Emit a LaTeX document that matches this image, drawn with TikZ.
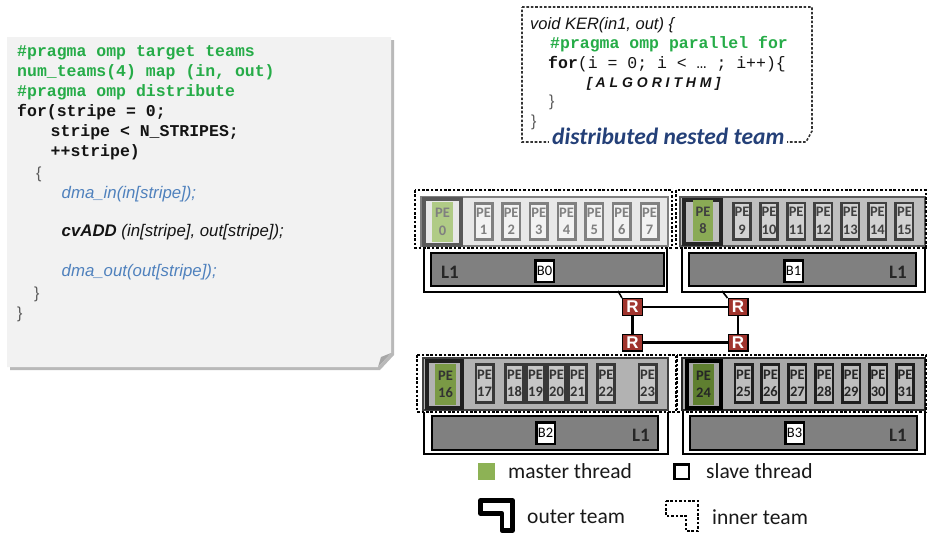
\documentclass[tikz,border=0pt]{standalone}
\usepackage{fontspec}
\setmainfont{Liberation Sans}
\setmonofont{Liberation Mono}
\newfontfamily\cbr{Carlito}
\definecolor{codegreen}{RGB}{38,172,72}
\definecolor{codeblue}{RGB}{79,129,189}
\definecolor{codeblack}{RGB}{20,20,20}
\definecolor{bracegray}{RGB}{90,90,90}
\definecolor{titleblue}{RGB}{36,64,120}
\definecolor{routerred}{RGB}{160,52,45}
\definecolor{panelgray}{RGB}{242,242,242}
\definecolor{greenA}{RGB}{176,203,134}
\definecolor{greenB}{RGB}{138,170,85}
\definecolor{greenC}{RGB}{122,154,69}
\definecolor{greenD}{RGB}{95,127,48}
\definecolor{legendgreen}{RGB}{141,178,85}
\begin{document}
\begin{tikzpicture}[x=1pt,y=-1pt,
  codeg/.style={anchor=base west, inner sep=0pt, font=\ttfamily\bfseries\fontsize{16.5}{20}\selectfont, text=codegreen},
  codek/.style={codeg, text=codeblack},
  codei/.style={anchor=base west, inner sep=0pt, font=\itshape\fontsize{16.8}{20}\selectfont, text=codeblue},
  bracetxt/.style={anchor=base west, inner sep=0pt, font=\fontsize{16}{20}\selectfont, text=bracegray},
  pefont/.style={font=\cbr\bfseries\fontsize{14.5}{17.5}\selectfont},
  pe/.style={pefont, draw, line width=2.6pt, minimum width=17.4pt, minimum height=36.4pt, inner sep=0pt, align=center},
  master/.style={pefont, minimum width=21pt, minimum height=40pt, inner sep=0pt, align=center},
  frame/.style={draw, line width=4pt, inner sep=0pt},
  band/.style={line width=2pt},
  dots/.style={dash pattern=on 2.6pt off 1.8pt},
  inner team/.style={draw=black, line width=2.8pt, dots},
  outer team/.style={draw=black, line width=2.6pt},
  lbar/.style={draw=black, fill=gray!100!white, line width=2.5pt},
  bank/.style={draw=black, fill=white, line width=2.5pt, minimum width=18.5pt, minimum height=21.5pt, inner sep=0pt, font=\cbr\fontsize{14.5}{14.5}\selectfont},
  lone/.style={font=\cbr\bfseries\fontsize{19}{19}\selectfont, inner sep=0pt, text=black!85},
  router/.style={draw=black, line width=1.2pt, fill=routerred, text=white, font=\bfseries\fontsize{17}{17}\selectfont, minimum width=19.8pt, minimum height=16.8pt, inner sep=0pt},
  link/.style={draw=black, line width=2.4pt},
  legtxt/.style={anchor=west, inner sep=0pt, font=\cbr\fontsize{21.5}{21.5}\selectfont, text=black!90}
]
\useasboundingbox (0,0) rectangle (928,536);

% ---------------- host code panel ----------------
\fill[gray!55] (10,40) -- (394,40) -- (394,355) -- (380,370) -- (10,370) -- cycle;
\fill[panelgray] (7,37) -- (391,37) -- (391,353) -- (378,367) -- (7,367) -- cycle;
\fill[gray!70] (378,367) -- (381,357) -- (391,353) -- cycle;

\node[codeg] (h1) at (17,56.5) {\#pragma omp target teams};
\node[codeg] (h2) at (17,76.5) {num\_teams(4) map (in, out)};
\node[codeg] (h3) at (17,96.5) {\#pragma omp distribute};
\node[codek] (h4) at (17,116.5) {for(stripe = 0;};
\node[codek] (h5) at (50.5,136.5) {stripe < N\_STRIPES;};
\node[codek] (h6) at (50.5,156.5) {++stripe)};
\node[bracetxt] (h7) at (36,178) {\{};
\node[codei] (h8) at (61.5,198) {dma\_in(in[stripe]);};
\node[codei, text=codeblack] (h9) at (61.5,236.5) {{\bfseries cvADD} (in[stripe], out[stripe]);};
\node[codei] (h10) at (61.5,276.5) {dma\_out(out[stripe]);};
\node[bracetxt] (h11) at (34,298) {\}};
\node[bracetxt] (h12) at (17,318) {\}};

% ---------------- kernel code panel ----------------
\draw[line width=1.6pt, dots, black!80] (522,7) -- (812,7) -- (812,131) -- (806,142) -- (522,142) -- cycle;
\node[codei, text=codeblack, font=\itshape\fontsize{16.5}{20}\selectfont] (k1) at (530,29.5) {void KER(in1, out) \{};
\node[codeg] (k2) at (550,48) {\#pragma omp parallel for};
\node[codek, font=\ttfamily\fontsize{16.5}{20}\selectfont] (k3) at (548,68) {\textbf{for}(i = 0; i < … ; i++)\{};
\node[anchor=base west, inner sep=0pt, font=\bfseries\itshape\fontsize{14}{20}\selectfont, text=codeblack] (k4) at (587,87.5) {[ A L G O R I T H M ]};
\node[bracetxt] (k5) at (549,106) {\}};
\node[bracetxt] (k6) at (531,126) {\}};
\node[anchor=base west, fill=white, inner xsep=3pt, inner ysep=2pt, font=\cbr\bfseries\itshape\fontsize{23.5}{23.5}\selectfont, text=titleblue] (title) at (549,144.5) {distributed nested team};

% ---------------- network of routers ----------------
\node[router] (r1) at (632.5,307) {R};
\node[router] (r2) at (738,307) {R};
\node[router] (r3) at (632.5,342.5) {R};
\node[router] (r4) at (738,342.5) {R};
\draw[link] (r1) -- (r2);
\draw[link] (r3) -- (r4);
\draw[link] (r1) -- (r3);
\draw[link] (r2) -- (r4);
\coordinate (s0) at (618,291);
\coordinate (s1) at (722,291);
\draw[link, line width=1.6pt] (s0) -- (r1.north west);
\draw[link, line width=1.6pt] (s1) -- (r2.north west);

% ---------------- cluster 0 ----------------
\draw[outer team] (424,247) -- (424,292) -- (667,292) -- (667,247);
\draw[band, fill=gray!18, draw=gray!100!black] (421,197) rectangle (668,246);
\node[frame, draw=black!65, minimum width=37pt, minimum height=46pt] (f0) at (442.5,222) {};
\node[master, fill=greenA, text=black!50] (pe0) at (442.5,222) {PE\\0};
\foreach \i [count=\k from 0] in {1,...,7}
  \node[pe, draw=black!50, fill=gray!10, text=black!50] (pe\i) at ({483.5+27.67*\k},221.5) {PE\\\i};
\draw[inner team] (415,190) rectangle (672,248);
\draw[lbar] (431,253) rectangle (664,286);
\node[bank] (b0) at (544.5,271) {B0};
\node[lone] (l0) at (450,272) {L1};

% ---------------- cluster 1 ----------------
\draw[outer team] (682,247) -- (682,292) -- (925,292) -- (925,247);
\draw[band, fill=gray!50, draw=black!65] (680,197) rectangle (925,246);
\node[frame, draw=black!85, minimum width=37pt, minimum height=44pt] (f1) at (702.5,222) {};
\node[master, fill=greenB, text=black!75, minimum width=20pt, minimum height=41pt] (pe8) at (703,220.5) {PE\\8};
\foreach \i [count=\k from 0] in {9,...,15}
  \node[pe, draw=black!75, fill=gray!35, text=black!75] (pe\i) at ({742+27.08*\k},221) {PE\\\i};
\draw[inner team] (676,190) rectangle (926,248);
\draw[lbar] (689,253) rectangle (916,286);
\node[bank] (b1) at (793.5,271) {B1};
\node[lone] (l1) at (898,272) {L1};

% ---------------- cluster 2 ----------------
\draw[outer team] (424,412) -- (424,454) -- (668,454) -- (668,412);
\draw[band, fill=gray!60, draw=black!75] (423,358) rectangle (668,410);
\node[frame, draw=black!88, minimum width=35pt, minimum height=47pt] (f2) at (444.5,384.5) {};
\node[master, fill=greenC, text=black!80, minimum height=41pt] (pe16) at (445.5,384.5) {PE\\16};
\node[pe, draw=black!78, fill=gray!45, text=black!80, minimum height=38.4pt] (pe17) at (484.5,383.5) {PE\\17};
\foreach \i [count=\k from 0] in {18,...,21}
  \node[pe, draw=black!78, fill=gray!45, text=black!80, minimum width=18.4pt, minimum height=38.4pt] (pe\i) at ({514.5+21*\k},383.5) {PE\\\i};
\node[pe, draw=black!78, fill=gray!45, text=black!80, minimum height=38.4pt] (pe22) at (606,383.5) {PE\\22};
\node[pe, draw=black!78, fill=gray!45, text=black!80, minimum height=38.4pt] (pe23) at (647.5,383.5) {PE\\23};
\draw[inner team] (417,355) rectangle (676,412);
\draw[lbar] (432,416) rectangle (658,450);
\node[bank] (b2) at (545.5,433) {B2};
\node[lone] (l2) at (641,435) {L1};

% ---------------- cluster 3 ----------------
\draw[outer team] (683,412) -- (683,454) -- (925,454) -- (925,412);
\draw[band, fill=gray!68, draw=black!85] (682,358) rectangle (925,410);
\node[frame, draw=black, minimum width=34pt, minimum height=47pt] (f3) at (704,384.5) {};
\node[master, fill=greenD, text=black!85, minimum height=41pt] (pe24) at (703.5,384.5) {PE\\24};
\foreach \i [count=\k from 0] in {25,...,31}
  \node[pe, draw=black!88, fill=gray!52, text=black!85, minimum height=38.4pt] (pe\i) at ({743.5+26.92*\k},383.5) {PE\\\i};
\draw[inner team] (677,355) rectangle (926,412);
\draw[lbar] (690,416) rectangle (917,450);
\node[bank] (b3) at (794.5,433) {B3};
\node[lone] (l3) at (898,435) {L1};

% ---------------- legend ----------------
\node[fill=legendgreen, minimum size=17pt, inner sep=0pt] (lgm) at (486.5,471.5) {};
\node[legtxt] (lgmt) at (508,471) {master thread};
\node[draw=black, line width=2.5pt, fill=white, minimum size=14.5pt, inner sep=0pt] (lgs) at (681.5,471.5) {};
\node[legtxt] (lgst) at (706,471) {slave thread};
\draw[line width=4.5pt, line join=round] (480.5,500.5) -- (512.5,500.5) -- (512.5,530.5) -- (502,530.5) -- (502,513.5) -- (480.5,513.5) -- cycle;
\node[legtxt] (lgot) at (527,517) {outer team};
\draw[line width=2.8pt, dots] (666,501) -- (698,501) -- (698,531) -- (686,531) -- (686,516) -- (666,516) -- cycle;
\node[legtxt] (lgit) at (712,517) {inner team};
\end{tikzpicture}
\end{document}
